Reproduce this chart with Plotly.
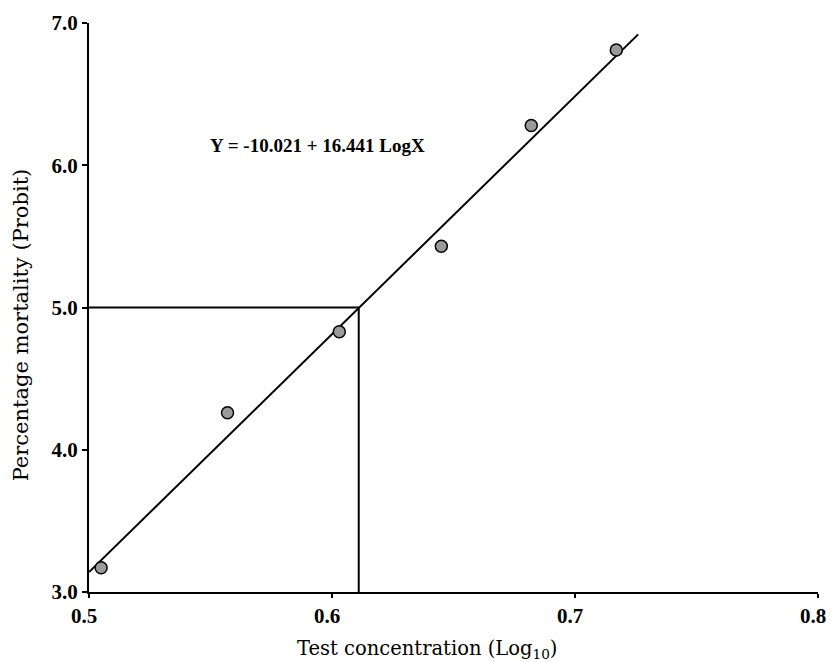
import plotly.graph_objects as go

# Data
log_conc = [0.505, 0.557, 0.603, 0.645, 0.682, 0.717]
probit = [3.17, 4.26, 4.83, 5.43, 6.28, 6.81]

fit_x = [0.5, 0.726]
fit_y = [3.14, 6.92]

lc50_x = 0.611
lc50_y = 5.0

x_ticks = [0.5, 0.6, 0.7, 0.8]
x_tick_labels = ["0.5", "0.6", "0.7", "0.8"]
y_ticks = [3.0, 4.0, 5.0, 6.0, 7.0]
y_tick_labels = ["3.0", "4.0", "5.0", "6.0", "7.0"]

equation = "Y = -10.021 + 16.441 LogX"
x_title = "Test concentration (Log<sub>10</sub>)"
y_title = "Percentage mortality (Probit)"

fig = go.Figure()

# LC50 reference lines
fig.add_trace(go.Scatter(
    x=[0.5, lc50_x, lc50_x], y=[lc50_y, lc50_y, 3.0],
    mode="lines", line=dict(color="black", width=2), showlegend=False,
    hoverinfo="skip"))

# Regression line
fig.add_trace(go.Scatter(
    x=fit_x, y=fit_y, mode="lines",
    line=dict(color="black", width=2), showlegend=False))

# Observed points
fig.add_trace(go.Scatter(
    x=log_conc, y=probit, mode="markers",
    marker=dict(symbol="circle", size=12, color="#9a9a9a",
                line=dict(color="black", width=1.5)),
    showlegend=False))

fig.add_annotation(
    x=0.5488, y=6.14, xref="x", yref="y", xanchor="left", yanchor="middle",
    text=equation, showarrow=False,
    font=dict(family="Liberation Serif", size=19, color="black", weight="bold"))

serif = "DejaVu Serif"

fig.add_annotation(
    x=0.464, y=-0.101, xref="paper", yref="paper", xanchor="center", yanchor="middle",
    text=x_title, showarrow=False,
    font=dict(family=serif, size=19.5, color="black"))

fig.add_annotation(
    x=-0.0936, y=0.47, xref="paper", yref="paper", xanchor="center", yanchor="middle",
    text=y_title, textangle=-90, showarrow=False,
    font=dict(family=serif, size=21, color="black"))

fig.update_layout(
    width=837, height=662,
    margin=dict(l=89, r=11, t=20, b=70),
    plot_bgcolor="white", paper_bgcolor="white",
    xaxis=dict(
        range=[0.5, 0.8], tickmode="array", tickvals=x_ticks, ticktext=x_tick_labels,
        showgrid=False, zeroline=False, showline=True, linecolor="black", linewidth=2,
        ticks="outside", ticklen=4, tickwidth=1.5, tickcolor="black",
        ticklabelshift=-5, ticklabeloverflow="allow",
        tickfont=dict(family="Liberation Serif", size=21, color="black", weight="bold"),
    ),
    yaxis=dict(
        range=[3.0, 7.0], tickmode="array", tickvals=y_ticks, ticktext=y_tick_labels,
        showgrid=False, zeroline=False, showline=True, linecolor="black", linewidth=2,
        ticks="outside", ticklen=5, tickwidth=1.5, tickcolor="black",
        tickfont=dict(family="Liberation Serif", size=21, color="black", weight="bold"),
    ),
)

fig.write_html("out.html")
